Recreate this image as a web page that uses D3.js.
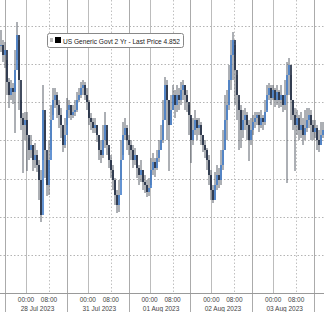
<!DOCTYPE html>
<html><head><meta charset="utf-8">
<script src="https://cdn.jsdelivr.net/npm/d3@7"></script>
<style>html,body{margin:0;padding:0;background:#fff;overflow:hidden}</style>
</head><body>
<script>
// ---- data (US Generic Govt 2 Yr, intraday bars) ----
const closes = [4.937,4.927,4.932,4.900,4.887,4.894,4.890,4.912,4.947,4.902,4.864,4.857,4.862,4.847,4.832,4.837,4.822,4.827,4.817,4.802,4.767,4.872,4.832,4.797,4.822,4.862,4.882,4.887,4.877,4.867,4.857,4.837,4.847,4.872,4.877,4.867,4.870,4.872,4.882,4.887,4.894,4.897,4.887,4.880,4.864,4.860,4.854,4.857,4.847,4.832,4.827,4.842,4.857,4.837,4.822,4.812,4.802,4.787,4.777,4.787,4.822,4.847,4.854,4.842,4.837,4.832,4.822,4.827,4.814,4.807,4.812,4.800,4.797,4.790,4.794,4.812,4.820,4.814,4.824,4.832,4.842,4.862,4.897,4.882,4.857,4.872,4.887,4.877,4.887,4.882,4.892,4.897,4.887,4.880,4.867,4.842,4.852,4.862,4.854,4.857,4.847,4.837,4.832,4.822,4.807,4.792,4.782,4.797,4.807,4.802,4.817,4.832,4.862,4.877,4.902,4.927,4.942,4.912,4.887,4.872,4.852,4.862,4.867,4.857,4.842,4.852,4.860,4.864,4.867,4.857,4.864,4.860,4.870,4.887,4.894,4.884,4.892,4.882,4.890,4.882,4.887,4.877,4.887,4.907,4.917,4.882,4.867,4.857,4.864,4.852,4.857,4.847,4.854,4.862,4.867,4.857,4.850,4.854,4.842,4.837,4.847,4.852];
const highs = [4.952,4.942,4.940,4.922,4.904,4.902,4.899,4.932,4.960,4.942,4.882,4.869,4.870,4.870,4.844,4.847,4.837,4.839,4.832,4.822,4.812,4.897,4.862,4.822,4.842,4.877,4.894,4.894,4.890,4.882,4.874,4.857,4.864,4.884,4.882,4.877,4.877,4.882,4.890,4.894,4.900,4.902,4.900,4.894,4.882,4.869,4.864,4.864,4.857,4.847,4.842,4.857,4.870,4.852,4.834,4.827,4.817,4.804,4.792,4.802,4.842,4.860,4.864,4.857,4.847,4.842,4.837,4.834,4.827,4.817,4.822,4.812,4.807,4.802,4.804,4.824,4.829,4.824,4.832,4.842,4.857,4.882,4.905,4.902,4.882,4.887,4.897,4.892,4.897,4.894,4.900,4.902,4.897,4.892,4.877,4.864,4.864,4.872,4.864,4.864,4.860,4.847,4.842,4.834,4.827,4.812,4.797,4.810,4.817,4.814,4.832,4.852,4.887,4.892,4.917,4.942,4.950,4.937,4.907,4.882,4.877,4.872,4.874,4.870,4.862,4.864,4.867,4.870,4.870,4.870,4.872,4.867,4.882,4.897,4.899,4.897,4.897,4.894,4.897,4.892,4.897,4.887,4.902,4.920,4.924,4.907,4.882,4.874,4.872,4.867,4.870,4.864,4.872,4.874,4.874,4.872,4.862,4.862,4.857,4.852,4.860,4.860];
const lows = [4.930,4.920,4.914,4.887,4.874,4.882,4.878,4.849,4.922,4.872,4.852,4.809,4.842,4.811,4.822,4.824,4.811,4.814,4.810,4.782,4.760,4.822,4.804,4.786,4.787,4.832,4.867,4.874,4.864,4.854,4.844,4.830,4.834,4.857,4.864,4.862,4.864,4.866,4.870,4.880,4.884,4.887,4.882,4.872,4.857,4.852,4.849,4.849,4.840,4.822,4.819,4.824,4.834,4.827,4.814,4.804,4.792,4.777,4.769,4.770,4.802,4.827,4.842,4.832,4.827,4.822,4.814,4.817,4.804,4.797,4.800,4.792,4.789,4.785,4.786,4.797,4.807,4.805,4.812,4.820,4.832,4.839,4.862,4.842,4.811,4.857,4.872,4.864,4.870,4.872,4.877,4.882,4.872,4.870,4.847,4.819,4.837,4.847,4.842,4.847,4.837,4.830,4.824,4.812,4.797,4.782,4.779,4.782,4.792,4.794,4.797,4.812,4.832,4.842,4.872,4.892,4.902,4.877,4.862,4.832,4.834,4.844,4.852,4.842,4.821,4.837,4.847,4.854,4.857,4.850,4.854,4.852,4.857,4.872,4.882,4.877,4.882,4.875,4.877,4.874,4.875,4.870,4.872,4.799,4.887,4.862,4.852,4.811,4.847,4.842,4.844,4.837,4.842,4.850,4.854,4.842,4.842,4.844,4.832,4.830,4.837,4.844];
const days = ["28 Jul 2023","31 Jul 2023","01 Aug 2023","02 Aug 2023","03 Aug 2023"];
const hourLabels = ["00:00","08:00"];
const gridValues = [4.956,4.918,4.880,4.842,4.803,4.765,4.727];
const legendText = "US Generic Govt 2 Yr - Last Price 4.852";
// session layout in bar units
const sessionStart = 2.5, sessionLen = 30.9, hourOffsets = [10.5, 22];

const W = 324, H = 312, plotBottom = 293;
const svg = d3.select("body").append("svg").attr("width", W).attr("height", H)
  .style("font-family", "'Liberation Sans', Arial, sans-serif");

const x = d3.scaleLinear().domain([0, closes.length]).range([0, W]);
const y = d3.scaleLinear().domain([4.689, 4.982]).range([plotBottom, 0]);

// horizontal dotted gridlines
svg.append("g").selectAll("line").data(gridValues).join("line")
  .attr("x1", 0).attr("x2", W)
  .attr("y1", d => Math.round(y(d)) + 0.5).attr("y2", d => Math.round(y(d)) + 0.5)
  .attr("stroke", "#b4b4b4").attr("stroke-dasharray", "1.5,2");

const seps = d3.range(days.length + 1).map(i => sessionStart + i * sessionLen);
const hourTicks = [];
days.forEach((d, i) => hourOffsets.forEach((o, j) => hourTicks.push({v: sessionStart + i * sessionLen + o, j})));

// vertical gridlines
svg.append("g").selectAll("line").data(hourTicks).join("line")
  .attr("x1", d => Math.round(x(d.v)) + 0.5).attr("x2", d => Math.round(x(d.v)) + 0.5)
  .attr("y1", 0).attr("y2", plotBottom)
  .attr("stroke", d => d.j === 0 ? "#bcbcbc" : "#c0c0c0")
  .attr("stroke-dasharray", d => d.j === 0 ? null : "1.5,2");
svg.append("g").selectAll("line").data(seps).join("line")
  .attr("x1", d => Math.round(x(d)) + 0.5).attr("x2", d => Math.round(x(d)) + 0.5)
  .attr("y1", 0).attr("y2", H)
  .attr("stroke", "#ababab");

// axis line
svg.append("line").attr("x1", 0).attr("x2", W).attr("y1", plotBottom + 0.5).attr("y2", plotBottom + 0.5)
  .attr("stroke", "#9a9a9a");

// candles
const bars = closes.map((c, i) => ({i, o: i === 0 ? c : closes[i - 1], c, h: highs[i], l: lows[i]}));
const g = svg.append("g");
g.selectAll("line.wick").data(bars).join("line").attr("class", "wick")
  .attr("x1", d => x(d.i + 0.5)).attr("x2", d => x(d.i + 0.5))
  .attr("y1", d => y(d.h)).attr("y2", d => y(d.l))
  .attr("stroke", "#5a606b").attr("stroke-width", 1);
g.selectAll("rect").data(bars).join("rect")
  .attr("x", d => x(d.i + 0.5) - 0.8).attr("width", 1.6)
  .attr("y", d => y(Math.max(d.o, d.c)))
  .attr("height", d => Math.max(1, Math.abs(y(d.o) - y(d.c))))
  .attr("fill", d => d.c >= d.o ? "#3f7bc9" : "#16223a");

// x labels
svg.append("g").selectAll("text").data(hourTicks).join("text")
  .attr("x", d => x(d.v)).attr("y", 301.5).attr("text-anchor", "middle")
  .attr("font-size", 6.5).attr("fill", "#444").text(d => hourLabels[d.j]);
svg.append("g").selectAll("text").data(days).join("text")
  .attr("x", (d, i) => x(sessionStart + i * sessionLen + (hourOffsets[0] + hourOffsets[1]) / 2))
  .attr("y", 310.5).attr("text-anchor", "middle")
  .attr("font-size", 6.5).attr("fill", "#444").text(d => d);

// legend
const lg = svg.append("g");
lg.append("rect").attr("x", 47.5).attr("y", 33.5).attr("width", 136).attr("height", 14).attr("rx", 2)
  .attr("fill", "#fff").attr("stroke", "#888");
lg.append("rect").attr("x", 50).attr("y", 38).attr("width", 3).attr("height", 4).attr("fill", "#bbb");
lg.append("rect").attr("x", 55).attr("y", 37).attr("width", 6).attr("height", 6).attr("fill", "#000");
lg.append("text").attr("x", 63).attr("y", 43.5).attr("font-size", 7.5).attr("fill", "#222")
  .attr("textLength", 117).attr("lengthAdjust", "spacingAndGlyphs").text(legendText);
</script>
</body></html>
